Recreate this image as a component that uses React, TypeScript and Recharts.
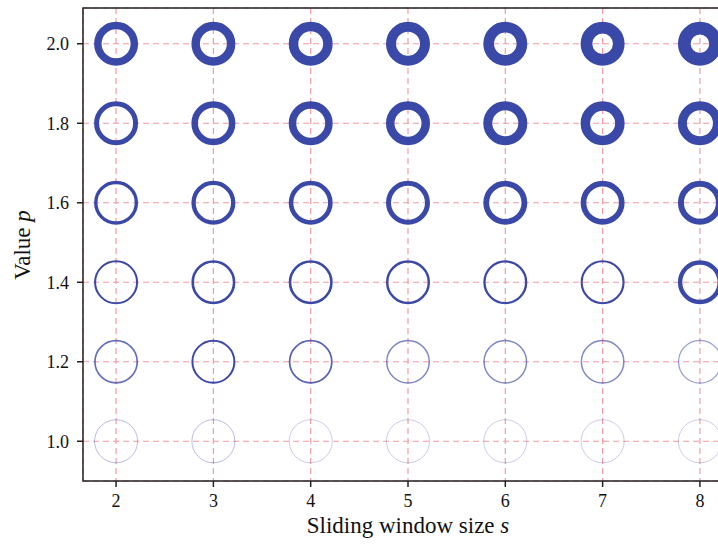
import React from 'react';
import {
  CartesianGrid,
  ReferenceArea,
  Scatter,
  ScatterChart,
  XAxis,
  YAxis,
} from 'recharts';

// sliding window sizes (x) and p values (y)
const windowSizes = [2, 3, 4, 5, 6, 7, 8];
const pValues = [1.0, 1.2, 1.4, 1.6, 1.8, 2.0];

// ring weight for each p row, one value per window size
const weightP10 = [1.0, 1.0, 0.9, 0.9, 0.9, 0.9, 0.9];
const weightP12 = [1.7, 2.0, 1.8, 1.5, 1.5, 1.5, 1.3];
const weightP14 = [2.0, 2.6, 2.6, 2.4, 2.3, 2.1, 4.4];
const weightP16 = [3.4, 4.3, 4.6, 5.0, 5.8, 5.7, 6.0];
const weightP18 = [5.0, 6.5, 7.5, 8.5, 9.0, 9.5, 9.0];
const weightP20 = [7.5, 8.5, 9.5, 10.0, 10.7, 11.7, 12.7];

const weightRows = [weightP10, weightP12, weightP14, weightP16, weightP18, weightP20];

const data = pValues.flatMap((p, i) =>
  windowSizes.map((s, j) => ({ s, p, w: weightRows[i][j] }))
);

const xDomain = [1.66, 8.34];
const yDomain = [0.9, 2.09];

const SERIF = '"Liberation Serif", "Times New Roman", serif';
const RING = '#3a48a8';
const OUTER_R = 22;

const Ring = (props: any) => {
  const { cx, cy, payload } = props;
  if (cx == null || cy == null) return null;
  const w = payload.w;
  return (
    <circle
      cx={cx}
      cy={cy}
      r={OUTER_R - w / 2}
      fill='none'
      stroke={RING}
      strokeWidth={w}
      strokeOpacity={Math.min(1, Math.pow(w / 2, 1.5))}
    />
  );
};

const XTitle = (props: any) => {
  const vb = props.viewBox || { x: 83, y: 481, width: 650, height: 60 };
  return (
    <text
      x={vb.x + vb.width / 2}
      y={533}
      textAnchor='middle'
      fontFamily={SERIF}
      fontSize={23}
      fill='#111'
    >
      Sliding window size <tspan fontStyle='italic'>s</tspan>
    </text>
  );
};

const YTitle = () => (
  <text
    x={0}
    y={0}
    transform='translate(30, 245) rotate(-90)'
    textAnchor='middle'
    fontFamily={SERIF}
    fontSize={23}
    fill='#111'
  >
    Value <tspan fontStyle='italic'>p</tspan>
  </text>
);

export default function App() {
  return (
    <div
      style={{
        position: 'absolute',
        left: 0,
        top: 0,
        width: 718,
        height: 547,
        overflow: 'hidden',
        background: '#fff',
      }}
    >
      <ScatterChart
        width={740}
        height={547}
        margin={{ top: 8, right: 7, bottom: 6, left: 0 }}
      >
        <CartesianGrid
          stroke='#f59aa2'
          strokeDasharray='6 4'
          strokeWidth={1.2}
        />
        <XAxis
          type='number'
          dataKey='s'
          domain={xDomain}
          ticks={windowSizes}
          allowDataOverflow
          height={60}
          axisLine={false}
          tickLine={{ stroke: '#222', strokeWidth: 1.5 }}
          tickSize={6}
          tickMargin={7}
          tick={{ fontFamily: SERIF, fontSize: 18, fill: '#111' }}
          label={<XTitle />}
        />
        <YAxis
          type='number'
          dataKey='p'
          domain={yDomain}
          ticks={pValues}
          allowDataOverflow
          width={83}
          axisLine={false}
          tickLine={{ stroke: '#222', strokeWidth: 1.5 }}
          tickSize={6}
          tickMargin={8}
          tickFormatter={(v) => v.toFixed(1)}
          tick={{ fontFamily: SERIF, fontSize: 18, fill: '#111' }}
          label={<YTitle />}
        />
        <ReferenceArea
          x1={xDomain[0]}
          x2={xDomain[1]}
          y1={yDomain[0]}
          y2={yDomain[1]}
          fill='none'
          stroke='#222'
          strokeWidth={1.5}
        />
        <Scatter data={data} shape={Ring} isAnimationActive={false} />
      </ScatterChart>
    </div>
  );
}
